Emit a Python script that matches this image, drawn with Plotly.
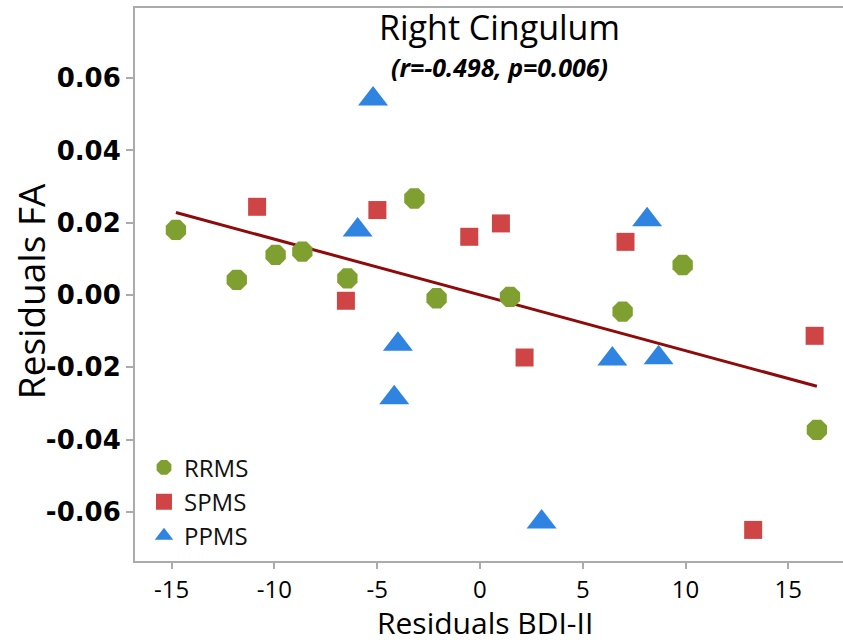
import numpy as np
import plotly.graph_objects as go

# ---- data ----
rrms_x = [-14.79, -11.83, -9.94, -8.64, -6.45, -3.19, -2.11, 1.46, 6.94, 9.86, 16.39]
rrms_y = [0.0180, 0.0042, 0.0111, 0.0120, 0.0046, 0.0267, -0.0009, -0.0005, -0.0046, 0.0083, -0.0373]

spms_x = [-10.84, -6.52, -4.99, -0.52, 1.02, 2.17, 7.08, 13.29, 16.28]
spms_y = [0.0244, -0.0016, 0.0235, 0.0161, 0.0198, -0.0173, 0.0147, -0.0650, -0.0113]

ppms_x = [-5.20, -5.95, -3.99, -4.17, 3.00, 6.44, 8.69, 8.13]
ppms_y = [0.0542, 0.0180, -0.0136, -0.0284, -0.0628, -0.0177, -0.0174, 0.0208]

x_tickvals = [-15, -10, -5, 0, 5, 10, 15]
x_ticktext = ["-15", "-10", "-5", "0", "5", "10", "15"]
y_tickvals = [-0.06, -0.04, -0.02, 0.0, 0.02, 0.04, 0.06]
y_ticktext = ["-0.06", "-0.04", "-0.02", "0.00", "0.02", "0.04", "0.06"]

title_text = "Right Cingulum"
subtitle_text = "(r=-0.498, p=0.006)"
x_title = "Residuals BDI-II"
y_title = "Residuals FA"

# ---- regression line fitted on all points ----
all_x = np.array(rrms_x + spms_x + ppms_x)
all_y = np.array(rrms_y + spms_y + ppms_y)
slope, intercept = np.polyfit(all_x, all_y, 1)
fit_x = np.array([all_x.min(), all_x.max()])
fit_y = slope * fit_x + intercept

fig = go.Figure()

fig.add_trace(go.Scatter(x=fit_x, y=fit_y, mode="lines",
                         line=dict(color="#8E0B0B", width=3),
                         showlegend=False, hoverinfo="skip"))
fig.add_trace(go.Scatter(x=rrms_x, y=rrms_y, mode="markers", name="RRMS",
                         marker=dict(symbol="octagon", size=22, color="#7FA031",
                                     line=dict(width=0))))
fig.add_trace(go.Scatter(x=spms_x, y=spms_y, mode="markers", name="SPMS",
                         marker=dict(symbol="square", size=18, color="#CF4545",
                                     line=dict(width=0))))
fig.add_trace(go.Scatter(x=ppms_x, y=ppms_y, mode="markers", name="PPMS",
                         marker=dict(symbol="triangle-up", size=26, color="#2E84E0",
                                     line=dict(width=0))))

axis_line = "#ABABAB"
H_PLOT = 553.0  # plot-area height in px (643 - 8 - 82)

fig.update_layout(
    width=843, height=643,
    margin=dict(l=135, r=0, t=8, b=82, autoexpand=False),
    paper_bgcolor="white", plot_bgcolor="white",
    showlegend=True,
    legend=dict(x=0.0127, y=0.107, xanchor="left", yanchor="middle",
                bgcolor="rgba(0,0,0,0)",
                font=dict(family="Open Sans", size=24, color="#111111"),
                tracegroupgap=0),
    xaxis=dict(range=[-16.78, 17.66], showgrid=False, zeroline=False,
               showline=True, linecolor=axis_line, linewidth=2, mirror=True,
               ticks="outside", ticklen=6, tickwidth=2, tickcolor=axis_line,
               tickvals=x_tickvals, ticktext=x_ticktext,
               tickfont=dict(family="Open Sans", size=24, color="black"),
               automargin=False),
    yaxis=dict(range=[-0.0736, 0.0794], showgrid=False, zeroline=False,
               showline=True, linecolor=axis_line, linewidth=2, mirror=False,
               ticks="outside", ticklen=7, tickwidth=2, tickcolor=axis_line,
               tickvals=y_tickvals, ticktext=y_ticktext,
               tickfont=dict(family="DejaVu Sans", size=26, color="black", weight="bold"),
               automargin=False),
    annotations=[
        dict(text=title_text, x=0.5155, y=(561 - 27) / H_PLOT, xref="paper", yref="paper",
             xanchor="center", yanchor="middle", showarrow=False,
             font=dict(family="Open Sans", size=34, color="black")),
        dict(text="<b><i>" + subtitle_text + "</i></b>", x=0.5155, y=(561 - 67) / H_PLOT,
             xref="paper", yref="paper", xanchor="center", yanchor="middle",
             showarrow=False,
             font=dict(family="Open Sans", size=25, color="black")),
        dict(text=x_title, x=(485 - 135) / 708, y=(561 - 622.5) / H_PLOT,
             xref="paper", yref="paper",
             xanchor="center", yanchor="middle", showarrow=False,
             font=dict(family="Open Sans", size=30, color="black")),
        dict(text=y_title, x=-0.1483, y=0.488, xref="paper", yref="paper",
             xanchor="center", yanchor="middle", showarrow=False, textangle=-90,
             font=dict(family="Open Sans", size=37, color="black")),
    ],
)

fig.write_html("out.html")
